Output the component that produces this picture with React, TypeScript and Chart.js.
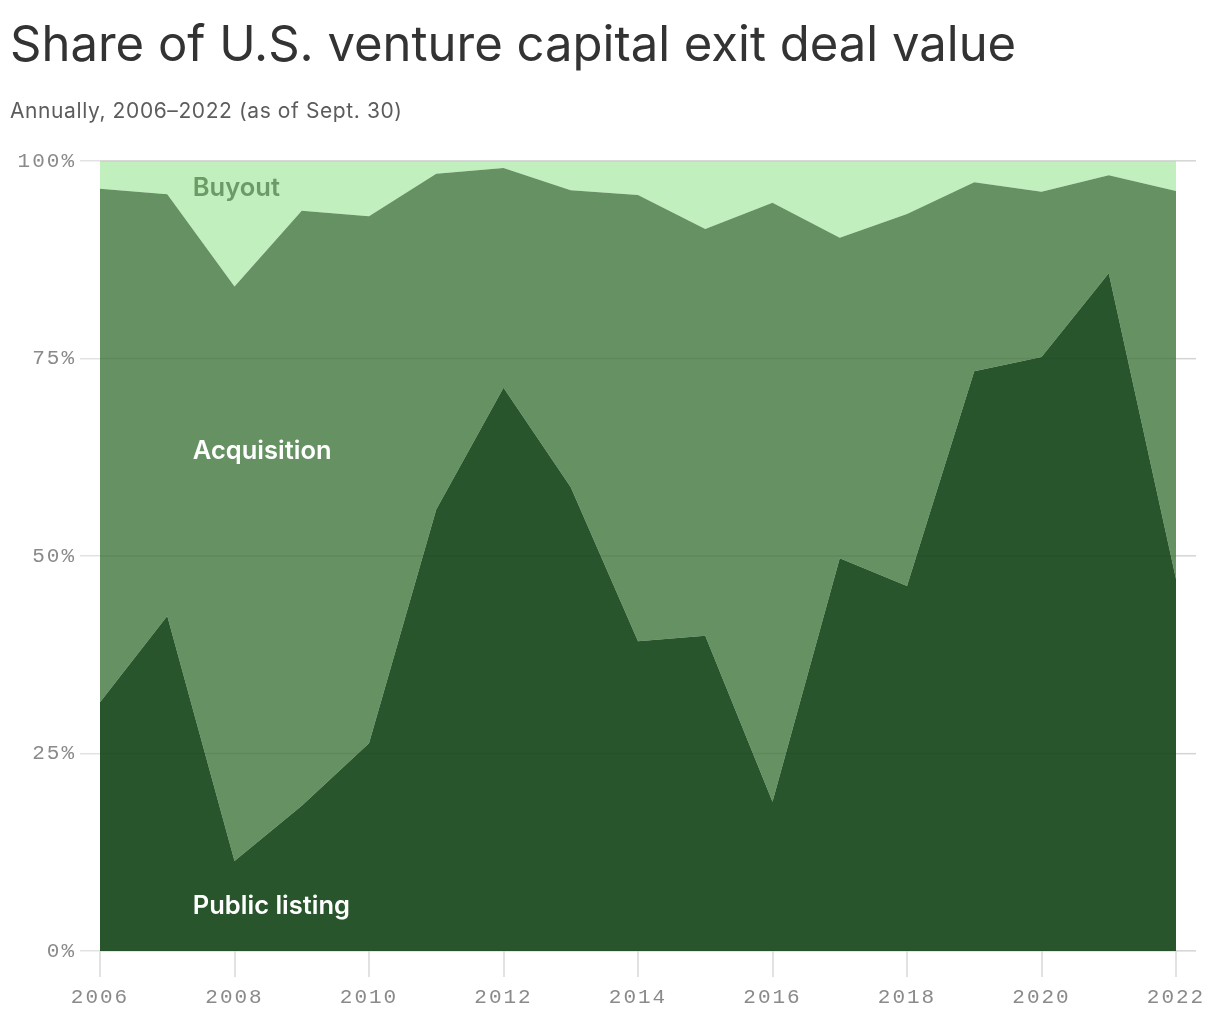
import React, { useEffect, useRef } from "react";
import { Chart, registerables } from "chart.js";

Chart.register(...registerables);

const years = [2006, 2007, 2008, 2009, 2010, 2011, 2012, 2013, 2014, 2015, 2016, 2017, 2018, 2019, 2020, 2021, 2022];
const publicListing = [31.5, 42.4, 11.4, 18.4, 26.3, 55.9, 71.3, 58.7, 39.2, 39.9, 18.9, 49.7, 46.2, 73.4, 75.2, 85.8, 47.1];
const acquisition = [65.0, 53.4, 72.7, 75.3, 66.7, 42.5, 27.8, 37.6, 56.5, 51.5, 75.8, 40.6, 47.1, 23.9, 20.9, 12.4, 49.1];
const buyout = [3.5, 4.2, 15.9, 6.3, 7.0, 1.6, 0.9, 3.7, 4.3, 8.6, 5.3, 9.7, 6.7, 2.7, 3.9, 1.8, 3.8];
const yTicks = [0, 25, 50, 75, 100];
const xTicks = [2006, 2008, 2010, 2012, 2014, 2016, 2018, 2020, 2022];

const seriesNames = ["Public listing", "Acquisition", "Buyout"];
const seriesColors = ["#28552c", "#659163", "#c1efbd"];
const labelColors = ["#ffffff", "#ffffff", "#6b9b67"];
const labelPos = [
  { x: 2007.38, y: 5.6 },
  { x: 2007.38, y: 63.3 },
  { x: 2007.38, y: 96.6 },
];

const tickFont = "'Liberation Mono', 'DejaVu Sans Mono', monospace";

const spacingPlugin = {
  id: "tickSpacing",
  beforeDraw(chart: any) {
    chart.ctx.letterSpacing = "2px";
  },
  afterDraw(chart: any) {
    chart.ctx.letterSpacing = "0px";
  },
};

const overlayPlugin = {
  id: "seriesLabels",
  afterDatasetsDraw(chart: any) {
    const { ctx, scales, chartArea } = chart;
    ctx.save();
    ctx.letterSpacing = "0px";
    // faint grid lines over the filled areas
    ctx.strokeStyle = "rgba(0,0,0,0.06)";
    ctx.lineWidth = 1.5;
    yTicks.forEach((v) => {
      const py = scales.y.getPixelForValue(v);
      ctx.beginPath();
      ctx.moveTo(chartArea.left, py);
      ctx.lineTo(chartArea.right, py);
      ctx.stroke();
    });
    ctx.font = "600 25.5px Inter, 'Noto Sans', sans-serif";
    ctx.textAlign = "left";
    ctx.textBaseline = "middle";
    seriesNames.forEach((name, i) => {
      ctx.fillStyle = labelColors[i];
      ctx.fillText(name, scales.x.getPixelForValue(labelPos[i].x), scales.y.getPixelForValue(labelPos[i].y));
    });
    ctx.restore();
  },
};

export default function App() {
  const ref = useRef<HTMLCanvasElement>(null);
  useEffect(() => {
    document.body.style.margin = "0";
    const seriesValues = [publicListing, acquisition, buyout];
    const chart = new Chart(ref.current!, {
      type: "line",
      data: {
        datasets: seriesNames.map((name, i) => ({
          label: name,
          data: years.map((yr, j) => ({ x: yr, y: seriesValues[i][j] })),
          backgroundColor: seriesColors[i],
          borderWidth: 0,
          borderColor: seriesColors[i],
          pointRadius: 0,
          fill: i === 0 ? "origin" : "-1",
          tension: 0,
        })),
      },
      options: {
        animation: false,
        responsive: false,
        layout: { padding: { top: 161, right: 24, left: 0, bottom: 0 } },
        plugins: { legend: { display: false }, tooltip: { enabled: false } },
        scales: {
          x: {
            type: "linear",
            min: 2006,
            max: 2022 + 20 / 67.25,
            afterBuildTicks: (scale: any) => {
              scale.ticks = xTicks.map((v) => ({ value: v }));
            },
            afterFit: (scale: any) => {
              scale.height = 69;
            },
            border: { display: false },
            grid: { drawOnChartArea: false, drawTicks: true, tickLength: 26, color: "#e2e2e2", lineWidth: 2 },
            ticks: {
              padding: 8,
              color: "#8a8a8a",
              font: { family: tickFont, size: 21 },
              callback: (v: any) => String(v),
              maxRotation: 0,
              autoSkip: false,
            },
          },
          y: {
            stacked: true,
            min: 0,
            max: 100,
            afterBuildTicks: (scale: any) => {
              scale.ticks = yTicks.map((v) => ({ value: v }));
            },
            afterFit: (scale: any) => {
              scale.width = 100;
            },
            border: { display: false },
            grid: { z: 0, color: "#e2e2e2", tickLength: 20, lineWidth: 1.5 },
            ticks: {
              padding: 4,
              color: "#8a8a8a",
              font: { family: tickFont, size: 21 },
              callback: (v: any) => v + "%",
            },
          },
        },
      },
      plugins: [spacingPlugin, overlayPlugin],
    });
    return () => chart.destroy();
  }, []);

  return (
    <div style={{ position: "relative", width: 1220, height: 1020, background: "#fff" }}>
      <canvas ref={ref} width={1220} height={1020} style={{ position: "absolute", left: 0, top: 0, width: 1220, height: 1020 }} />
      <div
        style={{
          position: "absolute",
          left: 10,
          top: 14,
          fontFamily: "Inter, 'Noto Sans', sans-serif",
          fontSize: 49,
          fontWeight: 400,
          color: "#333333",
          lineHeight: "60px",
          whiteSpace: "nowrap",
        }}
      >
        Share of U.S. venture capital exit deal value
      </div>
      <div
        style={{
          position: "absolute",
          left: 10,
          top: 98,
          fontFamily: "Inter, 'Noto Sans', sans-serif",
          fontSize: 21,
          color: "#5c5c5c",
          lineHeight: "26px",
          letterSpacing: 0.6,
          whiteSpace: "nowrap",
        }}
      >
        Annually, 2006–2022 (as of Sept. 30)
      </div>
    </div>
  );
}
